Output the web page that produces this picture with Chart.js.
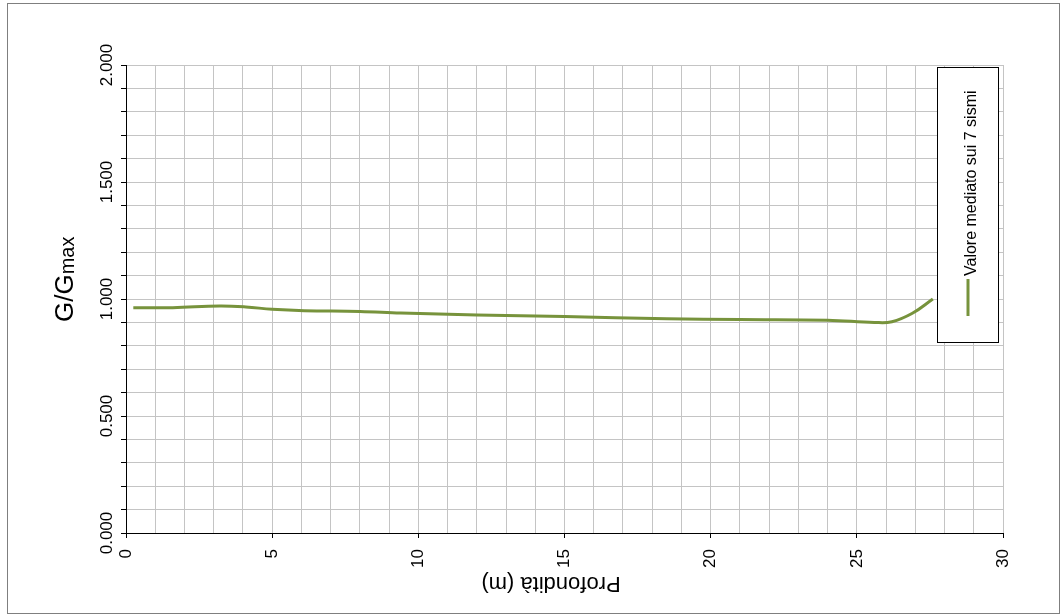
<!DOCTYPE html>
<html>
<head>
<meta charset="utf-8">
<script src="https://cdn.jsdelivr.net/npm/chart.js@4.4.0/dist/chart.umd.min.js"></script>
<style>
  body { margin: 0; background: #fff; }
  #wrap { width: 1061px; height: 615px; position: relative; }
</style>
</head>
<body>
<div id="wrap"><canvas id="ggChart" width="1061" height="615"></canvas></div>
<script>
// profondità (m) e G/Gmax
const depth = [0.25, 1.6, 3.2, 4.1, 5.0, 6.1, 8.0, 9.4, 12.0, 15.0, 18.5, 21.0, 24.0, 25.6, 26.2, 26.9, 27.6];
const ggmax = [0.963, 0.963, 0.970, 0.966, 0.956, 0.950, 0.947, 0.940, 0.932, 0.925, 0.916, 0.912, 0.909, 0.900, 0.903, 0.939, 1.000];
const seriesLabel = 'Valore mediato sui 7 sismi';

const xTicks = [0, 5, 10, 15, 20, 25, 30];
const yTicks = [0, 0.5, 1, 1.5, 2];

const FONT = '"Liberation Sans", Arial, sans-serif';
const GREEN = '#77933c';

// testi ruotati come nel foglio Excel
const textPlugin = {
    id: 'rotatedText',
    beforeDraw(chart) {
        const c = chart.ctx;
        c.save();
        c.fillStyle = '#fff';
        c.fillRect(0, 0, chart.width, chart.height);
        c.strokeStyle = '#7f7f7f';
        c.lineWidth = 1;
        c.strokeRect(7.5, 3.5, 1052, 610);
        c.restore();
    },
    afterDraw(chart) {
        const c = chart.ctx;
        const xs = chart.scales.x;
        const ys = chart.scales.y;
        c.save();
        c.fillStyle = '#000';

        // etichette asse y
        c.font = '17px ' + FONT;
        yTicks.forEach(v => {
            c.save();
            c.translate(112, ys.getPixelForValue(v));
            c.rotate(-Math.PI / 2);
            c.textAlign = 'center';
            c.textBaseline = 'alphabetic';
            c.fillText(v.toFixed(3), 0, 0);
            c.restore();
        });

        // etichette asse x
        xTicks.forEach(v => {
            c.save();
            c.translate(xs.getPixelForValue(v), 549);
            c.rotate(-Math.PI / 2);
            c.textAlign = 'right';
            c.textBaseline = 'middle';
            c.fillText(String(v), 0, 0);
            c.restore();
        });

        // titolo asse y: G/Gmax
        c.save();
        c.translate(73, 322);
        c.rotate(-Math.PI / 2);
        c.textAlign = 'left';
        c.textBaseline = 'alphabetic';
        c.font = '26px ' + FONT;
        c.fillText('G/G', 0, 0);
        const w = c.measureText('G/G').width;
        c.font = '20px ' + FONT;
        c.fillText('max', w, 1);
        c.restore();

        // titolo asse x capovolto
        c.save();
        c.translate(551, 577);
        c.rotate(Math.PI);
        c.textAlign = 'center';
        c.textBaseline = 'alphabetic';
        c.font = '22px ' + FONT;
        c.fillText('Profondità (m)', 0, 0);
        c.restore();

        // legenda
        c.fillStyle = '#fff';
        c.fillRect(937, 67, 62, 276);
        c.strokeStyle = '#000';
        c.lineWidth = 1;
        c.strokeRect(937.5, 67.5, 61, 275);
        c.strokeStyle = GREEN;
        c.lineWidth = 3;
        c.beginPath();
        c.moveTo(968, 279);
        c.lineTo(968, 316);
        c.stroke();
        c.save();
        c.translate(976, 276);
        c.rotate(-Math.PI / 2);
        c.fillStyle = '#000';
        c.font = '16px ' + FONT;
        c.textAlign = 'left';
        c.textBaseline = 'alphabetic';
        c.fillText(seriesLabel, 0, 0);
        c.restore();

        c.restore();
    }
};

const ctx = document.getElementById('ggChart');

new Chart(ctx, {
    type: 'line',
    data: {
        datasets: [{
            label: seriesLabel,
            data: depth.map((d, i) => ({ x: d, y: ggmax[i] })),
            borderColor: GREEN,
            borderWidth: 3,
            pointRadius: 0,
            tension: 0.4,
            fill: false
        }]
    },
    options: {
        responsive: false,
        animation: false,
        layout: { padding: { left: 121, top: 65, right: 58, bottom: 77 } },
        plugins: {
            legend: { display: false },
            tooltip: { enabled: false }
        },
        scales: {
            x: {
                type: 'linear',
                min: 0,
                max: 30,
                ticks: { stepSize: 1, display: false },
                grid: {
                    color: c => (c.tick && c.tick.value === 0) ? 'rgba(0,0,0,0)' : '#c4c4c4',
                    lineWidth: 1,
                    drawTicks: true,
                    tickLength: 5,
                    tickColor: c => (c.tick && Math.round(c.tick.value) % 5 === 0) ? '#000' : 'rgba(0,0,0,0)'
                },
                border: { color: '#000', width: 1 }
            },
            y: {
                min: 0,
                max: 2,
                ticks: { stepSize: 0.1, display: false },
                grid: {
                    color: c => (c.tick && Math.abs(c.tick.value) < 1e-6) ? 'rgba(0,0,0,0)' : '#c4c4c4',
                    lineWidth: 1,
                    drawTicks: true,
                    tickLength: 5,
                    tickColor: '#000'
                },
                border: { color: '#000', width: 1 }
            }
        }
    },
    plugins: [textPlugin]
});
</script>
</body>
</html>
